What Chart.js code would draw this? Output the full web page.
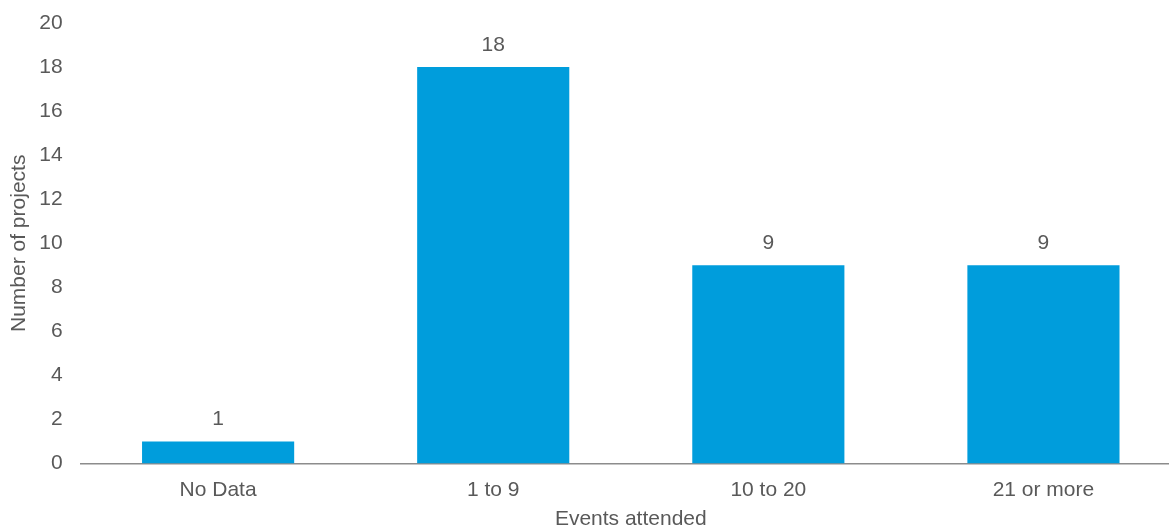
<!DOCTYPE html>
<html>
<head>
<meta charset="utf-8">
<script src="https://cdn.jsdelivr.net/npm/chart.js@4"></script>
<style>
  html, body { margin: 0; padding: 0; background: #fff; overflow: hidden; }
  /* plot runs a little past the right edge, as in the original */
  #wrap { width: 1181px; height: 532px; }
</style>
</head>
<body>
<div id="wrap"><canvas id="eventsChart"></canvas></div>
<script>
// Projects by number of events attended
const categories = ['No Data', '1 to 9', '10 to 20', '21 or more'];
const projectCounts = [1, 18, 9, 9];
const yTicks = [0, 2, 4, 6, 8, 10, 12, 14, 16, 18, 20];

const textGrey = '#595959';
Chart.defaults.font.family = '"Liberation Sans", Arial, sans-serif';
Chart.defaults.font.size = 21;
Chart.defaults.color = textGrey;

// labels above the bars
const barLabels = {
  id: 'barLabels',
  afterDatasetsDraw(chart) {
    const ctx = chart.ctx;
    const meta = chart.getDatasetMeta(0);
    ctx.save();
    ctx.font = '21px "Liberation Sans", Arial, sans-serif';
    ctx.fillStyle = textGrey;
    ctx.textAlign = 'center';
    ctx.textBaseline = 'middle';
    meta.data.forEach((bar, i) => {
      ctx.fillText(projectCounts[i], bar.x, bar.y - 22);
    });
    ctx.restore();
  }
};

new Chart(document.getElementById('eventsChart'), {
  type: 'bar',
  data: {
    labels: categories,
    datasets: [{
      label: 'Number of projects',
      data: projectCounts,
      backgroundColor: '#009DDC',
      categoryPercentage: 1,
      barPercentage: 0.553
    }]
  },
  options: {
    responsive: true,
    maintainAspectRatio: false,
    animation: false,
    layout: { padding: { top: 23, right: 0, left: 7, bottom: 0 } },
    plugins: {
      legend: { display: false },
      tooltip: { enabled: false }
    },
    scales: {
      x: {
        grid: { display: false, drawTicks: true, tickLength: 14 },
        border: { color: '#8c8c8c', width: 1.5 },
        ticks: { padding: 0 },
        title: { display: true, text: 'Events attended', padding: { top: 4, bottom: 0 } }
      },
      y: {
        min: 0,
        max: 20,
        afterBuildTicks(axis) { axis.ticks = yTicks.map(v => ({ value: v })); },
        grid: { display: false, drawTicks: true, tickLength: 18 },
        border: { display: false },
        ticks: { padding: 0 },
        title: { display: true, text: 'Number of projects', padding: { top: 0, bottom: 7 } }
      }
    }
  },
  plugins: [barLabels]
});
</script>
</body>
</html>
